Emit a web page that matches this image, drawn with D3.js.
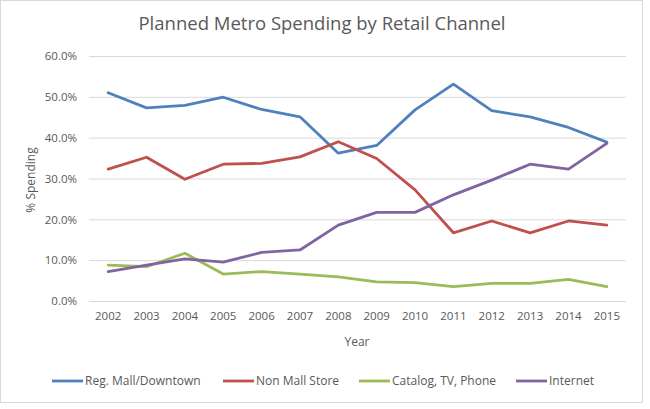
<!DOCTYPE html>
<html><head><meta charset="utf-8">
<script src="https://cdn.jsdelivr.net/npm/d3@7"></script>
<style>body{margin:0;background:#fff;}svg{display:block;}</style>
</head><body>
<svg id="c" width="650" height="409"></svg>
<script>
const years = ["2002","2003","2004","2005","2006","2007","2008","2009","2010","2011","2012","2013","2014","2015"];
const seriesNames = ["Reg. Mall/Downtown","Non Mall Store","Catalog, TV, Phone","Internet"];
const mall    = [51.0,47.3,47.9,49.9,46.9,45.1,36.2,38.1,46.8,53.1,46.6,45.1,42.5,38.9];
const nonMall = [32.3,35.2,29.8,33.5,33.7,35.3,39.0,34.9,27.2,16.7,19.6,16.7,19.6,18.6];
const catalog = [8.8,8.4,11.7,6.6,7.2,6.6,5.9,4.7,4.5,3.5,4.3,4.3,5.3,3.5];
const internet= [7.2,8.8,10.3,9.5,11.9,12.5,18.6,21.7,21.7,26.0,29.6,33.5,32.3,38.6];
const yTicks = [0,10,20,30,40,50,60];
const colors = ["#4F81BD","#C0504D","#9BBB59","#8064A2"];
const allSeries = [mall,nonMall,catalog,internet];

const svg = d3.select("#c");
const font = "'Open Sans', sans-serif";
const txt = "#595959";
svg.append("rect").attr("x",0.5).attr("y",0.5).attr("width",642).attr("height",402)
  .attr("fill","#fff").attr("stroke","#d9d9d9");

const x = d3.scaleBand().domain(years).range([89,626]);
const y = d3.scaleLinear().domain([0,60]).range([301,56]);

svg.append("text").attr("x",322).attr("y",30).attr("text-anchor","middle")
  .attr("font-family",font).attr("font-size",18.5).attr("fill",txt)
  .text("Planned Metro Spending by Retail Channel");

const ya = svg.append("g").attr("transform","translate(89,0)")
  .call(d3.axisLeft(y).tickValues(yTicks).tickSize(-537).tickPadding(12).tickFormat(d=>d.toFixed(1)+"%"));
ya.select(".domain").remove();
ya.selectAll("line").attr("stroke","#d9d9d9");
ya.selectAll("text").attr("font-family",font).attr("font-size",11.5).attr("fill",txt);

const xa = svg.append("g").attr("transform","translate(0,301)")
  .call(d3.axisBottom(x).tickSize(0).tickPadding(11));
xa.select(".domain").remove();
xa.selectAll("text").attr("font-family",font).attr("font-size",11.5).attr("fill",txt);

svg.append("text").attr("x",357).attr("y",346).attr("text-anchor","middle")
  .attr("font-family",font).attr("font-size",12).attr("fill",txt).text("Year");
svg.append("text").attr("transform","translate(35,180) rotate(-90)").attr("text-anchor","middle")
  .attr("font-family",font).attr("font-size",12).attr("fill",txt).text("% Spending");

const line = d3.line().x((d,i)=>x(years[i])+x.bandwidth()/2).y(d=>y(d));
allSeries.forEach((s,k)=>{
  svg.append("path").datum(s).attr("d",line).attr("fill","none")
    .attr("stroke",colors[k]).attr("stroke-width",2.8).attr("stroke-linejoin","round").attr("stroke-linecap","round");
});

const legX = [52,223,359,516];
seriesNames.forEach((n,k)=>{
  const g = svg.append("g").attr("transform",`translate(${legX[k]},381)`);
  g.append("line").attr("x1",0).attr("x2",31).attr("y1",0).attr("y2",0)
    .attr("stroke",colors[k]).attr("stroke-width",2.8);
  g.append("text").attr("x",33).attr("y",4.2).attr("font-family",font).attr("font-size",12)
    .attr("fill",txt).text(n);
});
</script>
</body></html>
